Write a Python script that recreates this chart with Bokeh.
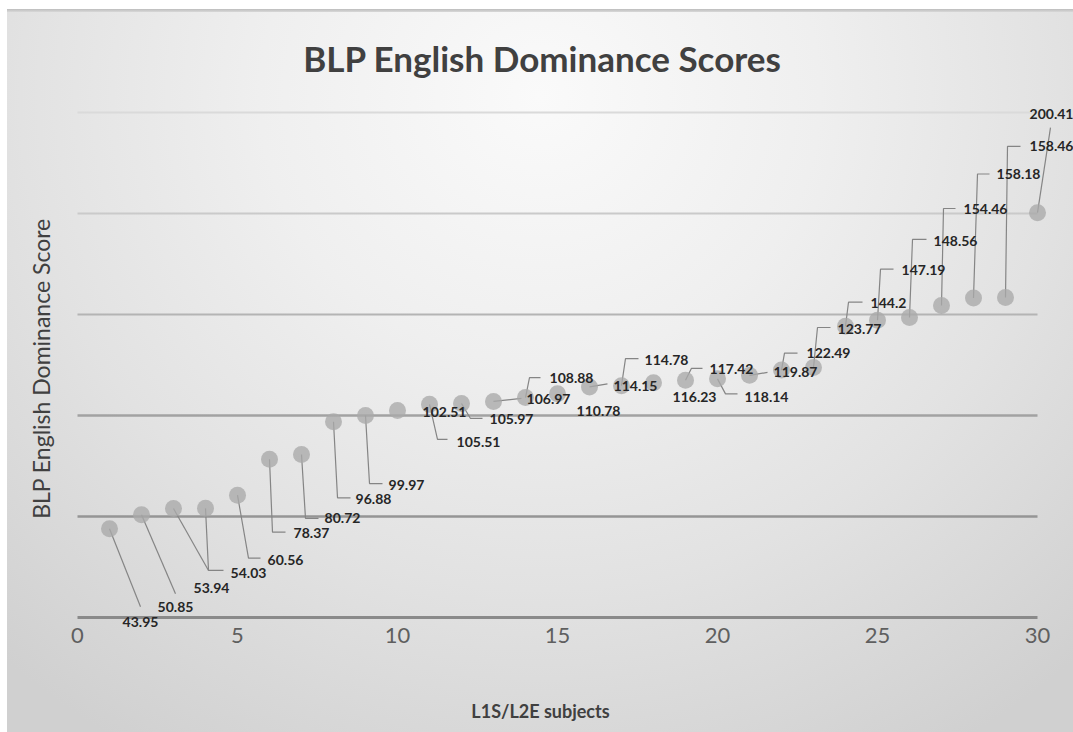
from bokeh.plotting import figure
from bokeh.models import ColumnDataSource, LabelSet, Label, Range1d, FixedTicker, LinearAxis
from bokeh.core.properties import value
from bokeh.embed import file_html
from bokeh.resources import INLINE

# ---- data -------------------------------------------------------------
subjects = list(range(1, 31))
scores = [43.95, 50.85, 53.94, 54.03, 60.56, 78.37, 80.72, 96.88, 99.97, 102.51,
          105.51, 105.97, 106.97, 108.88, 110.78, 114.15, 114.78, 116.23, 117.42, 118.14,
          119.87, 122.49, 123.77, 144.2, 147.19, 148.56, 154.46, 158.18, 158.46, 200.41]
grid_values = [0, 50, 100, 150, 200, 250]
x_ticks = [0, 5, 10, 15, 20, 25, 30]

# ---- callout layout: label centre offset and leader path, in pixels ----
# (dx right, dy down) relative to each marker centre
label_offsets = [(31, 93), (34, 92), (38, 79), (43, 65), (48, 65), (42, 74), (41, 64),
                 (40, 77), (41, 69), (47, 2), (49, 38), (50, 16), (55, -2), (46, -20),
                 (41, 17), (46, -1), (45, -26), (41, 14), (46, -11), (49, 18), (46, -3),
                 (47, -17), (46, -38), (43, -23), (46, -50), (46, -76), (44, -96),
                 (45, -124), (46, -151), (14, -99)]
leader_paths = [[(31, 78)], [(34, 79)], [(35, 62)], [(3, 62), (18, 62)], [(11, 63), (23, 63)],
                [(3, 73), (16, 73)], [(4, 64), (17, 64)], [(4, 76), (17, 76)], [(4, 68), (17, 68)],
                None, [(8, 35), (18, 35)], [(9, 15), (21, 15)], [(28, -3)],
                [(4, -20), (15, -20)], None, [(18, -3)], [(4, -27), (17, -27)], None,
                [(6, -12), (17, -12)], [(8, 15), (20, 15)], [(18, -3)], [(3, -17), (16, -17)],
                [(4, -40), (17, -40)], [(3, -24), (17, -24)], [(3, -51), (16, -51)],
                [(3, -78), (17, -78)], [(2, -97), (14, -97)], [(4, -124), (16, -124)],
                [(2, -151), (15, -151)], [(13, -85)]]

# ---- geometry: the plotting frame fills the whole canvas ----------------
W, H = 1073, 732
ORIGIN_X, ORIGIN_Y = 77, 617      # canvas position of (0, 0)
PX_X = 32.0                       # pixels per subject
PX_Y = 2.02                       # pixels per score point
X0 = -ORIGIN_X / PX_X
X1 = X0 + W / PX_X
Y0 = -(H - ORIGIN_Y) / PX_Y
Y1 = Y0 + H / PX_Y


def canvas_to_data(cx, cy):
    return (cx - ORIGIN_X) / PX_X, (ORIGIN_Y - cy) / PX_Y


p = figure(width=W, height=H, output_backend="svg", toolbar_location=None,
           x_range=Range1d(X0, X1), y_range=Range1d(Y0, Y1),
           min_border=0, min_border_left=0, min_border_right=0,
           min_border_top=0, min_border_bottom=0,
           x_axis_location=None, y_axis_location=None)
p.border_fill_alpha = 0
p.background_fill_alpha = 0
p.outline_line_color = None
p.grid.visible = False
p.styles = {
    "background": "linear-gradient(#bdbdbd, #d8d8d8) 7px 9px / calc(100% - 7px) 3px no-repeat, "
                  "radial-gradient(ellipse 75% 105% at 50% 12%, #fafafa 0%, #efefef 35%, "
                  "#e2e2e2 65%, #d0d0d0 100%) 7px 9px / calc(100% - 7px) calc(100% - 9px) no-repeat, "
                  "#ffffff"
}

# x axis pinned at score 0: tick numbers only
ax = LinearAxis(fixed_location=0, ticker=FixedTicker(ticks=x_ticks))
ax.axis_line_color = None
ax.major_tick_line_color = None
ax.minor_tick_line_color = None
ax.major_label_standoff = 4
ax.major_label_text_font = "Lato"
ax.major_label_text_font_size = "22px"
ax.major_label_text_color = "#5f5f5f"
p.add_layout(ax, "below")

# horizontal gridlines, fading toward the top
grid_colors = ["#8a8a8a", "#959595", "#a2a2a2", "#b4b4b4", "#cacaca", "#dadada"]
grid_widths = [3, 2.5, 2.5, 2, 2, 2]
p.segment(x0=[x_ticks[0]] * len(grid_values), x1=[x_ticks[-1]] * len(grid_values),
          y0=grid_values, y1=grid_values, line_color=grid_colors, line_width=grid_widths)

# leader lines from each marker to its label
lx, ly = [], []
for i, path in enumerate(leader_paths):
    if path is None:
        continue
    xs, ys = [subjects[i]], [scores[i]]
    for dx, dy in path:
        xs.append(subjects[i] + dx / PX_X)
        ys.append(scores[i] - dy / PX_Y)
    lx.append(xs)
    ly.append(ys)
p.multi_line(lx, ly, line_color="#858585", line_width=1.2)

# markers
p.scatter(subjects, scores, size=17, fill_color="#a9a9a9", fill_alpha=0.78, line_color=None)

# value labels
lab_src = ColumnDataSource(dict(
    x=[subjects[i] + dx / PX_X for i, (dx, dy) in enumerate(label_offsets)],
    y=[scores[i] - dy / PX_Y for i, (dx, dy) in enumerate(label_offsets)],
    text=[str(v) for v in scores],
))
p.add_layout(LabelSet(x="x", y="y", text="text", source=lab_src,
                      text_align="center", text_baseline="middle",
                      text_font=value("Lato"), text_font_style="bold",
                      text_font_size="14px", text_color="#262626"))

# title and axis titles
tx, ty = canvas_to_data(542, 57)
p.add_layout(Label(x=tx, y=ty, text="BLP English Dominance Scores",
                   text_align="center", text_baseline="alphabetic",
                   text_font="Lato", text_font_style="bold",
                   text_font_size="35px", text_color="#404040"))
xx, xy = canvas_to_data(540, 710)
p.add_layout(Label(x=xx, y=xy, text="L1S/L2E subjects",
                   text_align="center", text_baseline="alphabetic",
                   text_font="Lato", text_font_style="bold",
                   text_font_size="18px", text_color="#404040"))
yx, yy = canvas_to_data(40, 368)
p.add_layout(Label(x=yx, y=yy, text="BLP English Dominance Score", angle=90,
                   angle_units="deg", text_align="center", text_baseline="middle",
                   text_font="Lato", text_font_size="23px", text_color="#404040"))

open("out.html", "w").write(file_html(p, INLINE))
